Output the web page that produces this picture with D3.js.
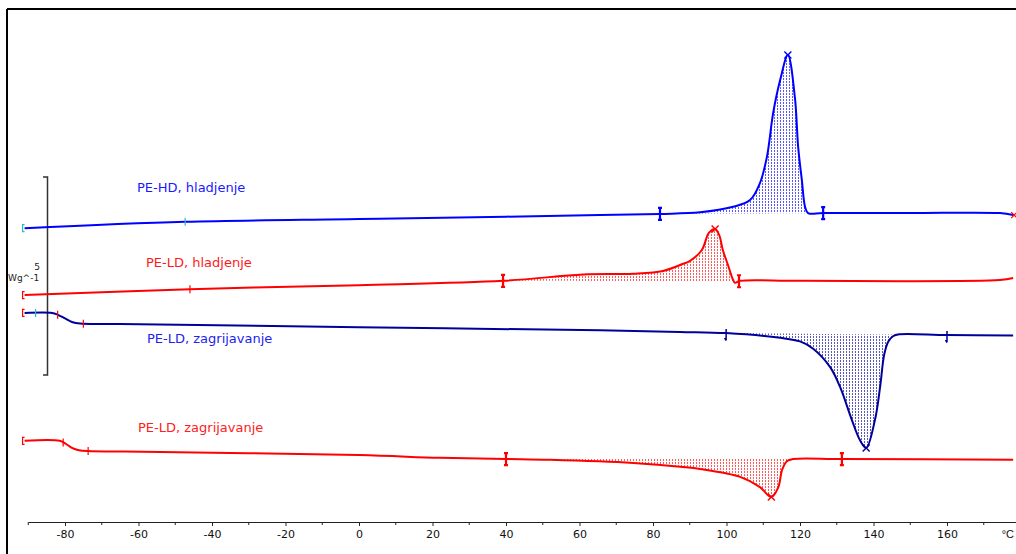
<!DOCTYPE html>
<html>
<head>
<meta charset="utf-8">
<script src="https://cdn.jsdelivr.net/npm/d3@7"></script>
<style>
  body { margin: 0; background: #fff; }
  svg { display: block; }
</style>
</head>
<body>
<svg id="dsc"></svg>
<script>
// DSC curves: temperature in °C, heat flow in W/g (curves are offset vertically)
const tempHD = [-91, -47.3, 0, 40, 65.6, 81.9, 92.8, 101.8, 106.4, 109.1, 111.0, 112.7, 114.6, 116.7, 118.6, 119.5, 120.5, 121.4, 122.2, 126.3, 150, 174.4, 178];
const heatHD = [7.42, 7.58, 7.65, 7.71, 7.75, 7.78, 7.82, 7.96, 8.13, 8.56, 9.22, 10.33, 11.16, 11.79, 10.73, 9.47, 8.64, 7.95, 7.80, 7.80, 7.80, 7.80, 7.75];

const tempLDcool = [-91, -46, 0, 39.2, 61, 74.6, 82.7, 88.2, 90, 93.3, 95.2, 96.9, 98, 99, 100.4, 101.8, 102.3, 103.7, 120, 174.4, 178];
const heatLDcool = [5.73, 5.88, 5.98, 6.09, 6.25, 6.27, 6.34, 6.52, 6.59, 6.87, 7.30, 7.40, 7.25, 6.87, 6.49, 6.11, 6.04, 6.09, 6.09, 6.11, 6.16];

const tempLDheat = [-91, -83.5, -81.9, -80, -78.1, -75.9, -65, 0, 65.6, 87.3, 99.9, 114.6, 120, 123.5, 128.2, 130.9, 134.1, 136.3, 138, 140.4, 141.8, 142.9, 144, 145.3, 147, 160, 178];
const heatLDheat = [5.28, 5.28, 5.23, 5.14, 5.05, 5.01, 5.00, 4.92, 4.84, 4.80, 4.77, 4.65, 4.56, 4.38, 3.91, 3.41, 2.58, 2.07, 1.87, 2.58, 3.41, 4.22, 4.55, 4.69, 4.74, 4.72, 4.71];

const tempLDheat2 = [-91, -81.4, -79.7, -78.1, -76.5, -73.7, -63.7, 0, 22, 40, 52, 74.6, 88.2, 92.8, 103.7, 109.1, 112.2, 114.1, 115.1, 116.5, 118.1, 131.4, 178];
const heatLDheat2 = [2.05, 2.05, 1.97, 1.87, 1.82, 1.79, 1.78, 1.69, 1.62, 1.59, 1.57, 1.49, 1.39, 1.34, 1.14, 0.88, 0.63, 0.88, 1.31, 1.54, 1.59, 1.59, 1.57];

// integration limits and peak temperatures
const limitsHD = [81.9, 126.3], peakHD = 116.7;
const limitsLDcool = [39.2, 103.4], peakLDcool = 96.9;
const limitsLDheat = [99.9, 160], peakLDheat = 138;
const limitsLDheat2 = [40, 131.4], peakLDheat2 = 112.2;

const labels = ["PE-HD, hladjenje", "PE-LD, hladjenje", "PE-LD, zagrijavanje", "PE-LD, zagrijavanje"];

const xTicks = d3.range(-80, 161, 20);
const xMinor = d3.range(-90, 180, 10).filter(d => d % 20 !== 0);
const scaleBarBase = 3.71, scaleBarSpan = 5;

const width = 1016, height = 554;
const svg = d3.select("#dsc").attr("width", width).attr("height", height)
  .style("font-family", "'DejaVu Sans', Verdana, sans-serif");

const x = d3.scaleLinear().domain([-90, 180]).range([28.25, 1020.5]);
const y = d3.scaleLinear().domain([0, 13]).range([522, 7.2]);

const cyan = "#2fb8c8";
const series = [
  { t: tempHD, v: heatHD, color: "#0000ff", text: "#1a1aff", limits: limitsHD, peak: peakHD, label: labels[0], lx: 137, ly: 192,
    ticks: [{ t: -47.3, c: cyan }], start: cyan, thick: true },
  { t: tempLDcool, v: heatLDcool, color: "#ff0000", text: "#ff1a1a", limits: limitsLDcool, peak: peakLDcool, label: labels[1], lx: 146, ly: 267,
    ticks: [{ t: -46, c: "#ff0000" }], start: "#ff0000", thick: true },
  { t: tempLDheat, v: heatLDheat, color: "#00009a", text: "#2222ee", limits: limitsLDheat, peak: peakLDheat, label: labels[2], lx: 147, ly: 343,
    ticks: [{ t: -88, c: cyan }, { t: -82, c: "#ff0000" }, { t: -75, c: "#ff0000" }], start: "#ff0000", thick: false },
  { t: tempLDheat2, v: heatLDheat2, color: "#ff0000", text: "#ff2020", limits: limitsLDheat2, peak: peakLDheat2, label: labels[3], lx: 138, ly: 432,
    ticks: [{ t: -80.5, c: "#ff0000" }, { t: -73.7, c: "#ff0000" }], start: "#ff0000", thick: true }
];

function valueAt(s, t) {
  const i = d3.bisectLeft(s.t, t);
  if (i <= 0) return s.v[0];
  if (i >= s.t.length) return s.v[s.t.length - 1];
  const t0 = s.t[i - 1], t1 = s.t[i];
  return s.v[i - 1] + (s.v[i] - s.v[i - 1]) * (t - t0) / (t1 - t0);
}

// frame
svg.append("line").attr("x1", 7).attr("x2", 7).attr("y1", 9).attr("y2", height)
  .attr("stroke", "#000").attr("stroke-width", 2);
svg.append("line").attr("x1", 7).attr("x2", width).attr("y1", 9).attr("y2", 9)
  .attr("stroke", "#000").attr("stroke-width", 2);

// x axis
const axis = svg.append("g").attr("transform", `translate(0,${y(0)})`)
  .call(d3.axisBottom(x).tickValues(xTicks).tickFormat(d => String(d)).tickSize(4).tickSizeOuter(0).tickPadding(4));
axis.select(".domain").attr("stroke", "#222");
axis.selectAll(".tick line").attr("stroke", "#222");
axis.selectAll(".tick text").attr("font-size", 11).attr("font-family", "'DejaVu Sans', Verdana, sans-serif").attr("fill", "#111");
axis.selectAll(".minor").data(xMinor).enter().append("line")
  .attr("x1", d => x(d)).attr("x2", d => x(d)).attr("y1", 0).attr("y2", 3).attr("stroke", "#222");
axis.append("text").attr("x", width - 2).attr("y", 8).attr("dy", "0.71em")
  .attr("text-anchor", "end").attr("font-size", 11).attr("fill", "#111").text("°C");

// scale bar 5 W/g
const sb = svg.append("g").attr("stroke", "#333").attr("stroke-width", 1.5).attr("fill", "none");
sb.append("path").attr("d", `M43,${y(scaleBarBase + scaleBarSpan)}H47.5V${y(scaleBarBase)}H43`);
svg.append("text").attr("x", 37).attr("y", 270).attr("font-size", 9).attr("fill", "#222")
  .attr("text-anchor", "middle").text(scaleBarSpan);
svg.append("text").attr("x", 8).attr("y", 281).attr("font-size", 9).attr("fill", "#222").text("Wg^-1");

const defs = svg.append("defs");
const smooth = d3.curveCatmullRom.alpha(0.5);
const line = d3.line().x(d => x(d[0])).y(d => y(d[1])).curve(smooth);

series.forEach((s, i) => {
  // hatched area between curve and integration baseline
  const [a, b] = s.limits;
  const va = valueAt(s, a), vb = valueAt(s, b);
  const base = t => va + (vb - va) * (t - a) / (b - a);
  const pts = [[a, va]]
    .concat(s.t.map((t, k) => [t, s.v[k]]).filter(p => p[0] > a && p[0] < b))
    .concat([[b, vb]]);
  defs.append("pattern").attr("id", "hatch" + i).attr("patternUnits", "userSpaceOnUse")
    .attr("width", 3).attr("height", 3)
    .append("rect").attr("width", 1).attr("height", 2).attr("fill", s.color).attr("opacity", 0.65);
  svg.append("path").datum(pts)
    .attr("d", d3.area().x(d => x(d[0])).y0(d => y(base(d[0]))).y1(d => y(d[1])).curve(smooth))
    .attr("fill", `url(#hatch${i})`);

  // curve
  svg.append("path").datum(s.t.map((t, k) => [t, s.v[k]]))
    .attr("d", line).attr("fill", "none").attr("stroke", s.color).attr("stroke-width", 2);

  // start bracket
  const sx = x(s.t[0]) - 2, sy = y(s.v[0]);
  svg.append("path").attr("d", `M${sx + 2},${sy - 3.5}H${sx}V${sy + 3.5}H${sx + 2}`)
    .attr("fill", "none").attr("stroke", s.start).attr("stroke-width", 1.2);

  // small event ticks
  s.ticks.forEach(k => {
    const kx = x(k.t), ky = y(valueAt(s, k.t));
    svg.append("line").attr("x1", kx).attr("x2", kx).attr("y1", ky - 4).attr("y2", ky + 4)
      .attr("stroke", k.c).attr("stroke-width", 1.2);
  });

  // integration limits
  s.limits.forEach(t => {
    const lx = x(t), ly = y(valueAt(s, t));
    if (s.thick) {
      svg.append("path").attr("d", `M${lx - 2},${ly - 6}H${lx + 2}M${lx},${ly - 6}V${ly + 6}M${lx - 2},${ly + 6}H${lx + 2}`)
        .attr("fill", "none").attr("stroke", s.color).attr("stroke-width", 2.2);
    } else {
      svg.append("path").attr("d", `M${lx},${ly - 4}V${ly + 7}M${lx - 1.5},${ly + 5}L${lx},${ly + 7.5}`)
        .attr("fill", "none").attr("stroke", s.color).attr("stroke-width", 1.5);
    }
  });

  // peak cross
  const px = x(s.peak), py = y(valueAt(s, s.peak));
  svg.append("path").attr("d", `M${px - 3.5},${py - 3.5}L${px + 3.5},${py + 3.5}M${px - 3.5},${py + 3.5}L${px + 3.5},${py - 3.5}`)
    .attr("stroke", s.color).attr("stroke-width", 1.4);

  // label
  svg.append("text").attr("x", s.lx).attr("y", s.ly).attr("font-size", 13).attr("fill", s.text).text(s.label);
});

// end marker on PE-HD curve
const hd = series[0];
const ex = x(hd.t[hd.t.length - 1]) + 1, ey = y(hd.v[hd.v.length - 1]);
svg.append("path").attr("d", `M${ex - 3},${ey - 3}L${ex + 3},${ey + 3}M${ex - 3},${ey + 3}L${ex + 3},${ey - 3}`)
  .attr("stroke", "#ff0000").attr("stroke-width", 1.2);
</script>
</body>
</html>
